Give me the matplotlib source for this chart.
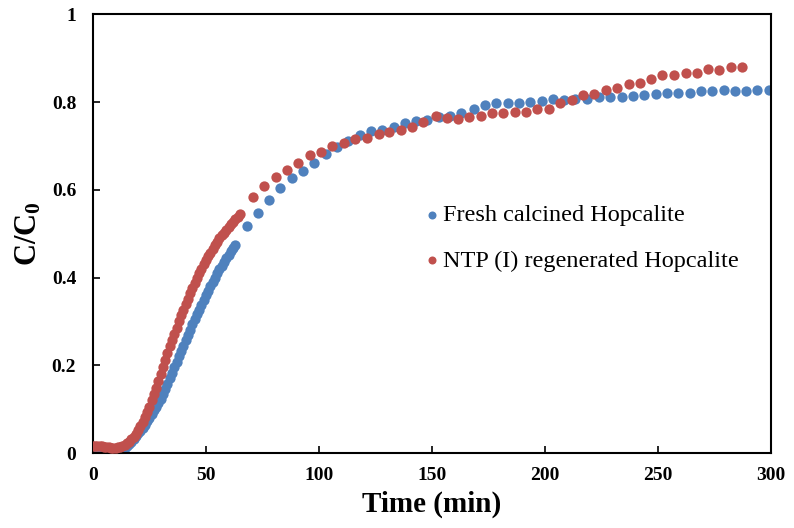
import numpy as np
import matplotlib
matplotlib.use("Agg")
import matplotlib.pyplot as plt

plt.rcParams["font.family"] = "Liberation Serif"
plt.rcParams["mathtext.fontset"] = "custom"
plt.rcParams["mathtext.rm"] = "Liberation Serif"
plt.rcParams["mathtext.bf"] = "Liberation Serif:bold"

# breakthrough curves, sampled every minute at the start then every ~5 min
fresh_t_dense = list(range(0, 64))
fresh_c_dense = [0.003, 0.002, 0.002, 0.003, 0.002, 0.002, 0.003, 0.002, 0.002, 0.003,
                 0.003, 0.004, 0.006, 0.009, 0.012, 0.016, 0.020, 0.025, 0.031, 0.038,
                 0.045, 0.051, 0.058, 0.065, 0.072, 0.080, 0.088, 0.097, 0.105, 0.113,
                 0.122, 0.134, 0.146, 0.158, 0.170, 0.182, 0.195, 0.208, 0.221, 0.233,
                 0.245, 0.257, 0.269, 0.281, 0.293, 0.305, 0.316, 0.327, 0.338, 0.349,
                 0.360, 0.370, 0.380, 0.390, 0.400, 0.410, 0.419, 0.427, 0.436, 0.444,
                 0.452, 0.460, 0.467, 0.475]
fresh_t_sparse = [68, 73, 78, 83, 88, 93, 98, 103, 108, 113, 118, 123, 128, 133, 138,
                  143, 148, 153, 158, 163, 168.5, 173.5, 178.5, 183.5, 188.5, 193.5,
                  198.5, 203.5, 208.5, 213.5, 218.5, 224, 229, 234, 239, 244, 249, 254,
                  259, 264, 269, 274, 279, 284, 289, 294, 299]
fresh_c_sparse = [0.518, 0.546, 0.576, 0.603, 0.626, 0.643, 0.661, 0.681, 0.698, 0.711,
                  0.724, 0.734, 0.737, 0.743, 0.752, 0.757, 0.759, 0.766, 0.768, 0.775,
                  0.783, 0.794, 0.797, 0.797, 0.797, 0.800, 0.802, 0.806, 0.804, 0.806,
                  0.806, 0.812, 0.812, 0.812, 0.814, 0.815, 0.818, 0.821, 0.821, 0.821,
                  0.825, 0.825, 0.827, 0.825, 0.825, 0.827, 0.827]

ntp_t_dense = list(range(0, 66))
ntp_c_dense = [0.016, 0.016, 0.015, 0.015, 0.015, 0.014, 0.013, 0.013, 0.012, 0.012,
               0.012, 0.013, 0.014, 0.016, 0.019, 0.022, 0.026, 0.031, 0.037, 0.044,
               0.052, 0.061, 0.071, 0.082, 0.094, 0.106, 0.120, 0.134, 0.148, 0.164,
               0.180, 0.196, 0.212, 0.227, 0.243, 0.258, 0.272, 0.286, 0.300, 0.314,
               0.327, 0.339, 0.352, 0.364, 0.376, 0.388, 0.399, 0.410, 0.420, 0.430,
               0.440, 0.449, 0.457, 0.466, 0.474, 0.482, 0.489, 0.496, 0.502, 0.509,
               0.515, 0.521, 0.527, 0.533, 0.539, 0.545]
ntp_t_sparse = [70.7, 75.8, 81, 85.7, 90.8, 96, 100.9, 105.9, 111.1, 116.1, 121.1,
                126.4, 131.1, 136.3, 141.3, 146.1, 151.6, 156.5, 161.5, 166.5, 171.5,
                176.5, 181.5, 186.6, 191.7, 196.7, 201.8, 206.6, 211.8, 216.9, 221.8,
                226.8, 231.9, 237.2, 242, 247, 252, 257.1, 262.2, 267.1, 272.1, 277.1,
                282.3, 287.3]
ntp_c_sparse = [0.584, 0.609, 0.629, 0.645, 0.661, 0.680, 0.686, 0.699, 0.707, 0.715,
                0.719, 0.728, 0.731, 0.736, 0.743, 0.754, 0.768, 0.764, 0.761, 0.765,
                0.768, 0.774, 0.774, 0.777, 0.777, 0.783, 0.785, 0.797, 0.804, 0.815,
                0.818, 0.828, 0.831, 0.840, 0.844, 0.852, 0.861, 0.861, 0.867, 0.867,
                0.876, 0.872, 0.879, 0.879]

x_ticks = [0, 50, 100, 150, 200, 250, 300]
y_ticks = [0, 0.2, 0.4, 0.6, 0.8, 1]
y_ticklabels = ["0", "0.2", "0.4", "0.6", "0.8", "1"]

blue = "#4F81BD"
red = "#C0504D"

fig = plt.figure(figsize=(7.94, 5.28), dpi=100)
ax = fig.add_axes([0.117, 0.142, 0.854, 0.831])

ax.scatter(fresh_t_dense + fresh_t_sparse, fresh_c_dense + fresh_c_sparse,
           s=55, color=blue, linewidths=0, label="Fresh calcined Hopcalite", zorder=2)
ax.scatter(ntp_t_dense + ntp_t_sparse, ntp_c_dense + ntp_c_sparse,
           s=55, color=red, linewidths=0, label="NTP (I) regenerated Hopcalite", zorder=3)

ax.set_xlim(0, 300)
ax.set_ylim(0, 1)
ax.set_xticks(x_ticks)
ax.set_yticks(y_ticks)
ax.set_yticklabels(y_ticklabels)
for lab in ax.get_xticklabels() + ax.get_yticklabels():
    lab.set_fontweight("bold")
ax.tick_params(direction="in", length=5, width=1.2, labelsize=14)
ax.tick_params(axis="y", pad=12)
ax.tick_params(axis="x", pad=10)
for sp in ax.spines.values():
    sp.set_linewidth(1.5)

ax.set_xlabel("Time (min)", fontsize=21, fontweight="bold", labelpad=5)
ax.set_ylabel(r"$\mathbf{C/C_0}$", fontsize=22, labelpad=6)

ax.legend(loc="center left", bbox_to_anchor=(0.475, 0.49), frameon=False,
          fontsize=17.5, handlelength=0.6, handletextpad=0.15, labelspacing=0.95,
          markerscale=0.78, borderaxespad=0)

fig.savefig("out.png", dpi=100)
